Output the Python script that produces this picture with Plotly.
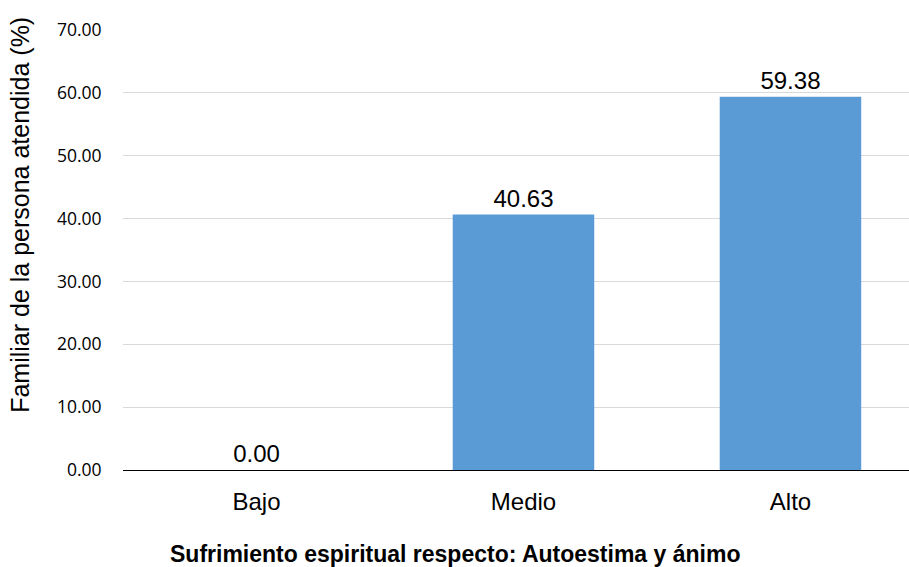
import plotly.graph_objects as go

categories = ["Bajo", "Medio", "Alto"]
values = [0.00, 40.63, 59.38]
y_ticks = [0, 10, 20, 30, 40, 50, 60, 70]

x_title = "<b>Sufrimiento espiritual respecto: Autoestima y ánimo</b>"
y_title = "Familiar de la persona atendida (%)"

fig = go.Figure()
fig.add_trace(go.Bar(
    x=categories,
    y=values,
    width=0.53,
    marker=dict(color="#5b9bd5", line=dict(width=0)),
    text=[f"{v:.2f}" for v in values],
    textposition="outside",
    textfont=dict(family="Liberation Sans, Arial", size=24, color="#000000"),
    cliponaxis=False,
))

fig.update_layout(
    width=909,
    height=567,
    margin=dict(l=123, r=0, t=30, b=97),
    paper_bgcolor="white",
    plot_bgcolor="white",
    showlegend=False,
    annotations=[
        dict(
            text=y_title, textangle=-90,
            xref="paper", yref="paper", x=-0.131, y=0.58,
            xanchor="center", yanchor="middle", showarrow=False,
            font=dict(family="Liberation Sans, Arial", size=25, color="#000000"),
        ),
        dict(
            text=x_title,
            xref="paper", yref="paper", x=0.4224, y=-0.19,
            xanchor="center", yanchor="middle", showarrow=False,
            font=dict(family="Liberation Sans, Arial", size=23, color="#000000"),
        ),
    ],
)

fig.update_xaxes(
    range=[-0.5, 2.444],
    showgrid=False,
    showline=False,
    ticks="outside",
    ticklen=10,
    tickcolor="rgba(0,0,0,0)",
    tickfont=dict(family="Liberation Sans, Arial", size=24, color="#000000"),
)

fig.update_yaxes(
    range=[0, 70],
    tickvals=y_ticks,
    tickformat=".2f",
    showgrid=True,
    gridcolor="#d9d9d9",
    gridwidth=1,
    zeroline=True,
    zerolinecolor="#000000",
    zerolinewidth=1.3,
    showline=False,
    ticks="outside",
    ticklen=17,
    tickcolor="rgba(0,0,0,0)",
    tickfont=dict(family="Open Sans, Noto Sans", size=17.5, color="#000000"),
)

fig.write_html("out.html")
